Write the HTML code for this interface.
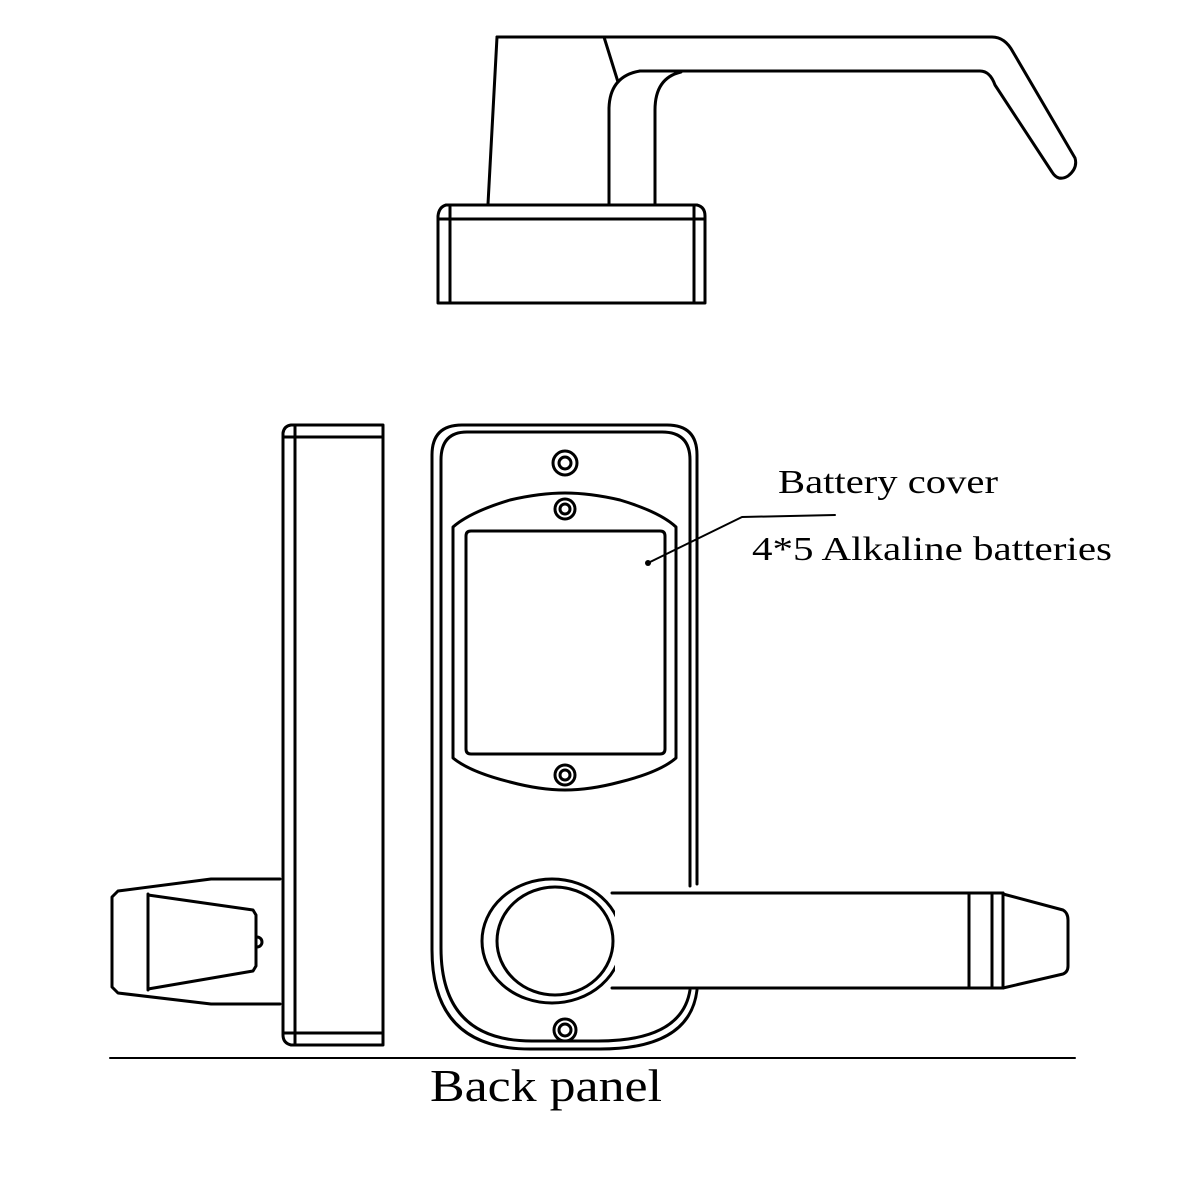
<!DOCTYPE html>
<html><head><style>
html,body{margin:0;padding:0;background:#fff;}
svg{display:block;}
text{font-family:"Liberation Serif",serif;fill:#000;}
</style></head><body>
<svg width="1200" height="1200" viewBox="0 0 1200 1200" xmlns="http://www.w3.org/2000/svg">
<g fill="none" stroke="#000" stroke-width="3" stroke-linejoin="round" stroke-linecap="round">
<!-- top handle -->
<path d="M497 37 L488 204"/>
<path d="M497 37 L992 37 Q1005 37 1013 52 L1075 158 Q1078 168 1068 176 Q1058 182 1052 172 L995 85 Q990 71 980 71 L640 71"/>
<path d="M604 37 L618 82"/>
<path d="M640 71 Q610 76 609 108 L609 204"/>
<path d="M681 72 Q655 78 655 110 L655 204"/>
<path d="M446 205 L697 205 Q705 207 705 216 L705 303 L438 303 L438 216 Q439 207 446 205 Z"/>
<path d="M438 219 L705 219 M450 207 L450 303 M694 207 L694 303"/>
<!-- side view -->
<path d="M291 425 L383 425 L383 1045 L291 1045 Q283 1043 283 1035 L283 433 Q284 426 291 425 Z"/>
<path d="M295 426 L295 1045 M283 437 L383 437 M283 1033 L383 1033"/>
<!-- knob -->
<path d="M280 879 L211 879 L118 891 L112 897 L112 987 L118 993 L211 1004 L280 1004"/>
<path d="M148 894 L148 990"/>
<path d="M148 895 L253 910 L256 915 L256 966 L253 971 L148 989"/>
<path d="M257 937 A5 5 0 1 1 257 947"/>
<!-- front panel -->
<path d="M697 884 L697 455 Q697 425 667 425 L462 425 Q432 425 432 455 L432 950 Q432 1049 530 1049 L600 1049 Q690 1049 697 990"/>
<path d="M690 886 L690 460 Q690 432 662 432 L467 432 Q441 432 441 460 L441 948 Q441 1041 532 1041 L598 1041 Q682 1041 690 990"/>
<!-- screws -->
<circle cx="565" cy="463" r="12"/><circle cx="565" cy="463" r="6"/>
<circle cx="565" cy="509" r="10"/><circle cx="565" cy="509" r="5"/>
<circle cx="565" cy="775" r="10"/><circle cx="565" cy="775" r="5"/>
<circle cx="565" cy="1030" r="11"/><circle cx="565" cy="1030" r="6"/>
<!-- battery cover -->
<path d="M453 527 Q470 512 510 500 Q540 493 565 493 Q590 493 620 500 Q660 512 676 527 L676 758 Q660 772 620 782 Q590 790 565 790 Q540 790 510 782 Q470 772 453 758 Z"/>
<path d="M471 531 L660 531 Q665 531 665 536 L665 749 Q665 754 660 754 L471 754 Q466 754 466 749 L466 536 Q466 531 471 531 Z"/>
<!-- leader -->
<path d="M835 515 L742 517 L648 563" stroke-width="2"/>
<!-- lever -->
<ellipse cx="552" cy="941" rx="70" ry="62"/>
<ellipse cx="555" cy="941" rx="58" ry="54"/>
<path d="M615 893 L1003 893 L1003 988 L615 988" fill="#fff" stroke="none"/>
<path d="M612 893 L1003 893 M612 988 L1003 988"/>
<path d="M969 893 L969 988 M992 893 L992 988 M1003 893 L1003 988"/>
<path d="M1003 894 L1063 910 Q1068 913 1068 920 L1068 966 Q1068 972 1063 974 L1003 988"/>
<!-- bottom rule -->
<path d="M110 1058 L1075 1058" stroke-width="2"/>
</g>
<circle cx="648" cy="563" r="3" fill="#000"/>
<text x="778" y="493" font-size="34" textLength="220" lengthAdjust="spacingAndGlyphs">Battery cover</text>
<text x="752" y="560" font-size="34" textLength="360" lengthAdjust="spacingAndGlyphs">4*5 Alkaline batteries</text>
<text x="430" y="1101" font-size="46" textLength="232" lengthAdjust="spacingAndGlyphs">Back panel</text>
</svg>
</body></html>
